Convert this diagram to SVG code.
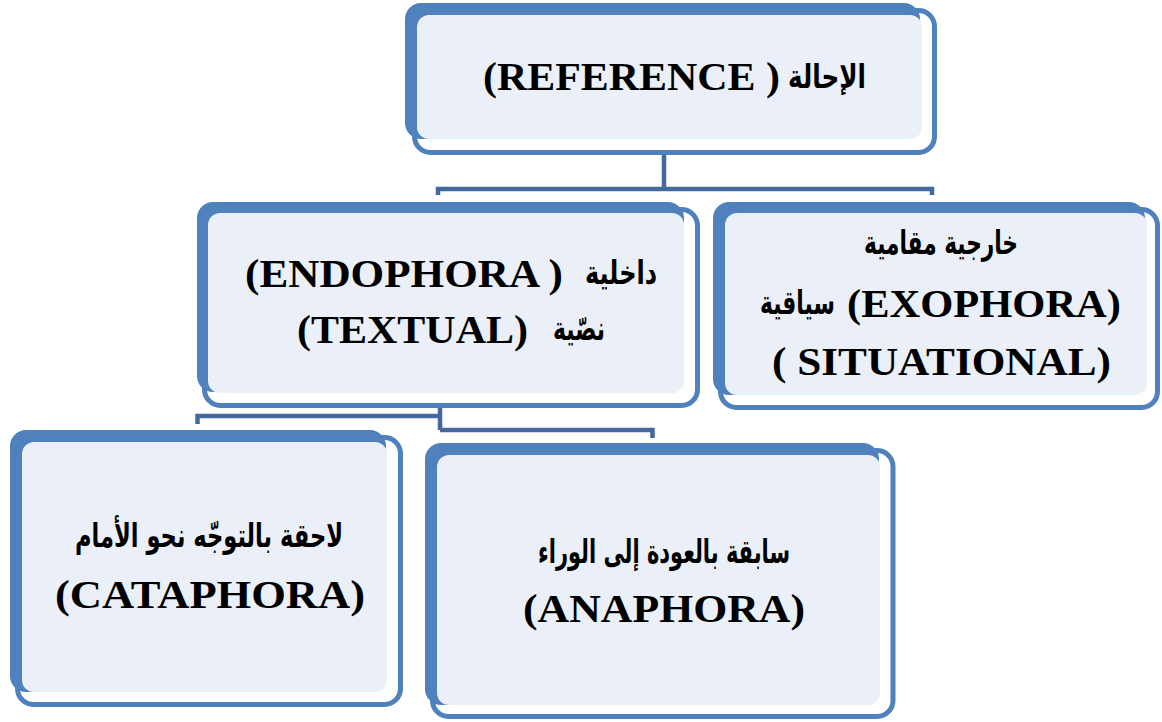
<svg xmlns="http://www.w3.org/2000/svg" width="1162" height="722" viewBox="0 0 1162 722">
  <style>
    .back { fill: #4F81BD; }
    .face { fill: #EBF0F8; }
    .rim { fill: none; stroke: #4F81BD; stroke-width: 5; }
    .lat { font-family: "Liberation Serif", "DejaVu Serif", serif; font-weight: bold; font-size: 40px; fill: #000; }
    .ara { font-family: "DejaVu Sans", "Noto Sans", sans-serif; font-weight: bold; font-size: 33px; fill: #000; }
    .link { fill: none; stroke: #44699C; stroke-width: 4.5; stroke-linejoin: miter; }
  </style>

  <!-- root: reference -->
  <g id="node-reference">
    <rect class="back" x="405" y="3" width="515" height="136" rx="16"/>
    <rect class="face" x="417" y="15" width="505" height="124" rx="12"/>
    <rect class="rim" x="414.5" y="10.5" width="520" height="142" rx="16"/>
    <text class="lat" x="483" y="90" font-size="42" textLength="297" lengthAdjust="spacingAndGlyphs">(REFERENCE )</text>
    <text class="ara" x="788" y="88" textLength="78" lengthAdjust="spacingAndGlyphs">الإحالة</text>
  </g>

  <!-- endophora -->
  <g id="node-endophora">
    <rect class="back" x="197" y="202" width="487" height="190" rx="16"/>
    <rect class="face" x="208" y="213" width="476" height="180" rx="12"/>
    <rect class="rim" x="204.5" y="209.5" width="493" height="196" rx="16"/>
    <text class="lat" x="245" y="287" font-size="42" textLength="318" lengthAdjust="spacingAndGlyphs">(ENDOPHORA  )</text>
    <text class="ara" x="585" y="284" textLength="72" lengthAdjust="spacingAndGlyphs">داخلية</text>
    <text class="lat" x="297" y="343" font-size="42" textLength="231" lengthAdjust="spacingAndGlyphs">(TEXTUAL)</text>
    <text class="ara" x="553" y="340" textLength="52" lengthAdjust="spacingAndGlyphs">نصّية</text>
  </g>

  <!-- exophora -->
  <g id="node-exophora">
    <rect class="back" x="713" y="202" width="432" height="193" rx="16"/>
    <rect class="face" x="725" y="213" width="422" height="182" rx="12"/>
    <rect class="rim" x="720.5" y="209.5" width="437" height="198" rx="16"/>
    <text class="ara" x="864" y="254" textLength="154" lengthAdjust="spacingAndGlyphs">خارجية مقامية</text>
    <!-- narrow word: squeezed horizontally with a transform -->
    <text class="ara" transform="matrix(0.66 0 0 1 760 314)">سياقية</text>
    <text class="lat" x="847" y="317" textLength="274" lengthAdjust="spacingAndGlyphs">(EXOPHORA)</text>
    <text class="lat" x="772" y="375" textLength="339" lengthAdjust="spacingAndGlyphs">( SITUATIONAL)</text>
  </g>

  <!-- cataphora -->
  <g id="node-cataphora">
    <rect class="back" x="10" y="430" width="376" height="262" rx="16"/>
    <rect class="face" x="22" y="442" width="365" height="250" rx="12"/>
    <rect class="rim" x="17.5" y="437.5" width="383" height="267" rx="16"/>
    <text class="ara" x="75" y="547" textLength="268" lengthAdjust="spacingAndGlyphs">لاحقة بالتوجّه نحو الأمام</text>
    <text class="lat" x="55" y="608" textLength="310" lengthAdjust="spacingAndGlyphs">(CATAPHORA)</text>
  </g>

  <!-- anaphora -->
  <g id="node-anaphora">
    <rect class="back" x="425" y="443" width="454" height="262" rx="16"/>
    <rect class="face" x="437" y="455" width="443" height="250" rx="12"/>
    <rect class="rim" x="432.5" y="450.5" width="460.5" height="266" rx="16"/>
    <text class="ara" x="538" y="563" textLength="252" lengthAdjust="spacingAndGlyphs">سابقة بالعودة إلى الوراء</text>
    <text class="lat" x="523" y="622" textLength="282" lengthAdjust="spacingAndGlyphs">(ANAPHORA)</text>
  </g>

  <!-- hierarchy connectors -->
  <g id="connectors">
    <path class="link" d="M664 155 V189"/>
    <path class="link" d="M438 195 V189 H932 V195"/>
    <path class="link" d="M440 408 V430"/>
    <path class="link" d="M197.5 424 V416 H440"/>
    <path class="link" d="M440 430 H652.5 V438"/>
  </g>
</svg>
